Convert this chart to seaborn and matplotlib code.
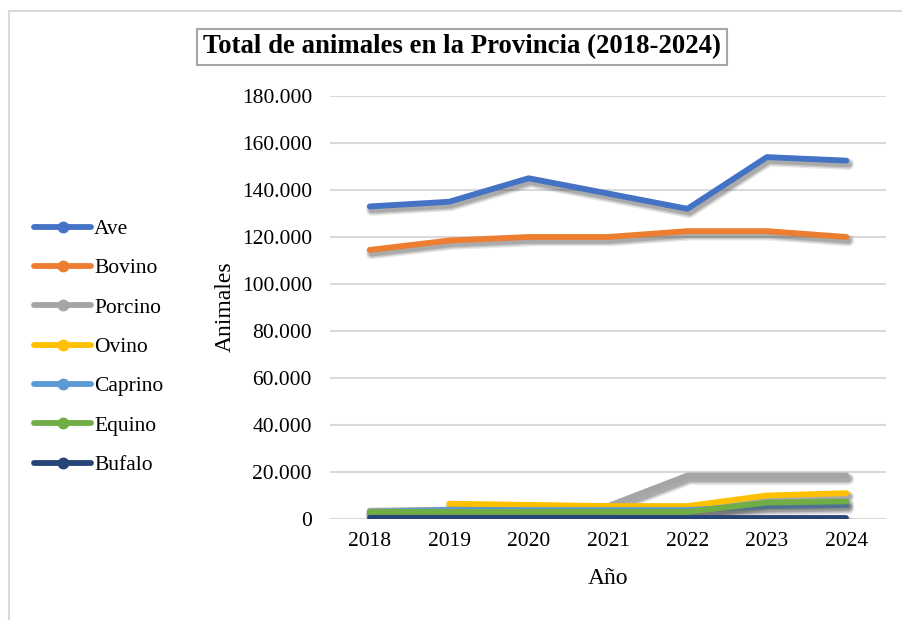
import seaborn as sns
import pandas as pd
import matplotlib.pyplot as plt
import numpy as np
from matplotlib.lines import Line2D
from matplotlib.patches import Rectangle
import matplotlib.patheffects as pe
from matplotlib.ticker import FuncFormatter

# data
years = [2018, 2019, 2020, 2021, 2022, 2023, 2024]
ave = [133000, 135000, 145000, 138500, 132000, 154000, 152500]
bovino = [114500, 118500, 120000, 120000, 122500, 122500, 120000]
porcino = [3500, 4000, 4500, 5500, 18500, 18500, 18500]
ovino = [np.nan, 6500, 6000, 5500, 5500, 10000, 11000]
caprino = [3000, 3800, 3800, 3800, 3800, 5500, 6000]
equino = [3000, 3000, 3000, 3000, 3000, 7000, 7500]
bufalo = [300, 300, 300, 300, 300, 300, 300]

species = ['Ave', 'Bovino', 'Porcino', 'Ovino', 'Caprino', 'Equino', 'Bufalo']
colors = ['#4472C4', '#ED7D31', '#A5A5A5', '#FFC000', '#5B9BD5', '#70AD47', '#264478']

series = [ave, bovino, porcino, ovino, caprino, equino, bufalo]
df = pd.concat([pd.DataFrame({'Año': years, 'Animales': vals, 'Especie': name})
                for name, vals in zip(species, series)], ignore_index=True)
df = df.dropna()

sns.set_style('white')
plt.rcParams['font.family'] = ['Liberation Serif', 'DejaVu Serif']
plt.rcParams['text.color'] = 'black'

fig = plt.figure(figsize=(9.02, 6.2), dpi=100)
ax = fig.add_axes([330 / 902, 1 - 519 / 620, 556 / 902, 423 / 620])

sns.lineplot(data=df, x='Año', y='Animales', hue='Especie', hue_order=species,
             palette=colors, linewidth=4.2, legend=False, ax=ax)

# soft drop shadow like the Excel original
shadow = [pe.SimpleLineShadow(offset=(1.5, -2.5), shadow_color='#404040', alpha=0.12, linewidth=8.5),
          pe.SimpleLineShadow(offset=(1.5, -2.5), shadow_color='#404040', alpha=0.18, linewidth=6.5),
          pe.SimpleLineShadow(offset=(1.5, -2.5), shadow_color='#404040', alpha=0.22, linewidth=4.5),
          pe.Normal()]
for line in ax.lines:
    line.set_solid_capstyle('round')
    line.set_path_effects(shadow)

ax.set_xlim(2017.5, 2024.5)
ax.set_ylim(0, 180000)
ax.set_xticks(years)
ax.set_yticks(np.arange(0, 180001, 20000))
ax.yaxis.set_major_formatter(FuncFormatter(lambda v, p: f'{int(v):,}'.replace(',', '.')))
ax.tick_params(axis='both', length=0, labelsize=15.5, labelcolor='black')
ax.tick_params(axis='y', pad=13)
ax.tick_params(axis='x', pad=9)
ax.grid(axis='y', color='#d9d9d9', linewidth=1.5)
ax.set_axisbelow(True)
for s in ax.spines.values():
    s.set_visible(False)

ax.set_xlabel('')
ax.set_ylabel('')
fig.text(608 / 902, 1 - 578 / 620, 'Año', fontsize=17, ha='center', va='center')
fig.text(225 / 902, 1 - 307 / 620, 'Animales', rotation=90, fontsize=17,
         ha='center', va='center')

# legend on the left
handles = [Line2D([0], [0], color=c, linewidth=4.2, marker='o', markersize=7.5,
                  solid_capstyle='round') for c in colors]
fig.legend(handles, species, loc='upper left', bbox_to_anchor=(34 / 902, 1 - 219 / 620),
           frameon=False, fontsize=15.5, handlelength=2.65, handletextpad=0.14,
           labelspacing=0.895, borderpad=0, borderaxespad=0)

# title in a box
fig.text(462 / 902, 1 - 47 / 620, 'Total de animales en la Provincia (2018-2024)',
         fontsize=19.3, fontweight='bold', ha='center', va='center',
         bbox=dict(boxstyle='square,pad=0.22', facecolor='white', edgecolor='#a6a6a6', linewidth=1.5))

# outer chart frame
fig.patches.append(Rectangle((9 / 902, -0.1), 1.2, 1 - 11 / 620 + 0.1, transform=fig.transFigure,
                             fill=False, edgecolor='#d9d9d9', linewidth=1.5))

fig.savefig('out.png', dpi=100)
